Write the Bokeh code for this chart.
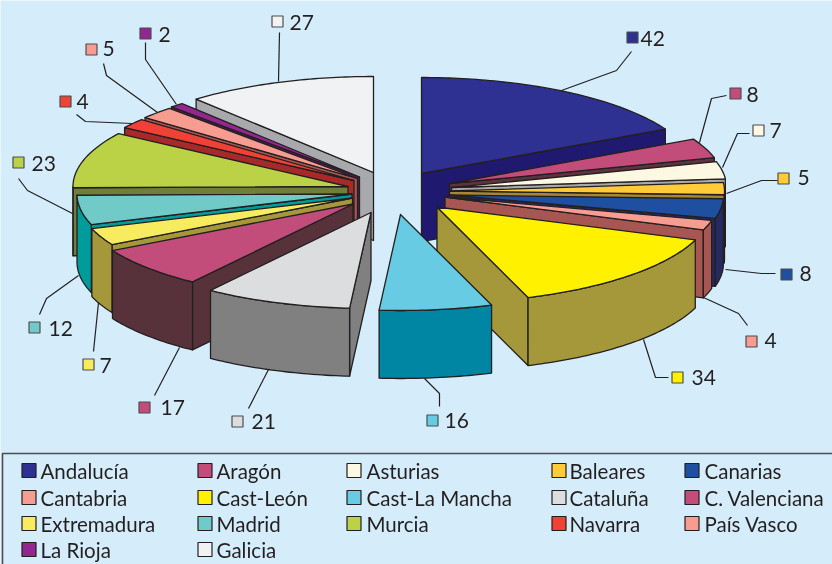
import math
from bokeh.plotting import figure
from bokeh.models import Range1d
from bokeh.core.properties import value
from bokeh.embed import file_html
from bokeh.resources import INLINE

# ---- data ----
regions = ["Andalucía", "Aragón", "Asturias", "Baleares", "Canarias", "Cantabria",
           "Cast-León", "Cast-La Mancha", "Cataluña", "C. Valenciana", "Extremadura",
           "Madrid", "Murcia", "Navarra", "País Vasco", "La Rioja", "Galicia"]
counts = [42, 8, 7, 5, 8, 4, 34, 16, 21, 17, 7, 12, 23, 4, 5, 2, 27]

# ---- styles ----
top_colors = ["#2E3191", "#C24D7B", "#FDF8E1", "#FFCB39", "#1F4FA0", "#F79C91",
              "#FFF100", "#66CBE3", "#DCDDDE", "#C24D7B", "#F7EC60",
              "#6FCAC8", "#BBD246", "#EF4136", "#F79C91", "#92278F", "#F1F2F4"]
side_colors = ["#1F1A6F", "#5E3240", "#A7A9AC", "#A88634", "#252B60", "#A85652",
               "#A5983A", "#0085A2", "#808080", "#58323A", "#A5983A",
               "#009C9C", "#6F7F3A", "#A62A2A", "#A85652", "#5A1A58", "#A7A9AC"]
BG = "#D5EDFA"
INK = "#231F20"
FONT = "Lato"

# ---- layout (pixels on the page) ----
RX, RY, DEPTH = 275, 96, 68
# where each pulled-out slice has its tip
tips = [(421, 173), (449, 183), (451, 187), (449, 190.5), (448, 194.5), (444.5, 196.5),
        (436.5, 206.5), (400, 214), (370.5, 212), (352.5, 203.5), (352, 197.5),
        (351.5, 193.5), (347.5, 186), (353.5, 180), (357, 178), (359, 176.5), (373, 172)]
paint_order = [0, 16, 15, 14, 13, 12, 1, 2, 3, 4, 5, 11, 10, 9, 8, 6, 7]
label_sq = [(632, 37), (735, 93), (758, 130), (783, 178), (786, 274), (751, 341),
            (677, 377), (432, 420), (237, 421), (144, 407), (88, 364),
            (34, 327), (18, 162), (65, 101), (91, 49), (145, 33), (277, 21)]
label_tx = [(640, 38), (746, 94), (769, 130), (797, 177), (799, 273), (764, 340),
            (691, 377), (444, 420), (251, 421), (160, 407), (99, 365),
            (48, 328), (31, 163), (76, 101), (102, 48), (158, 34), (289, 22)]
leaders = [[(631, 51), (616, 70), (561, 90)],
           [(726, 95), (711, 98), (699, 142)],
           [(749, 133), (737, 133), (722, 167)],
           [(777, 180), (761, 180), (726, 193)],
           [(775, 273), (761, 273), (725, 269)],
           [(747, 325), (738, 313), (703, 297)],
           [(668, 377), (655, 377), (643, 339)],
           [(439, 406), (439, 393), (424, 378)],
           [(248, 408), (268, 369)],
           [(154, 395), (179, 347)],
           [(93, 351), (98, 302)],
           [(39, 314), (46, 298), (78, 275)],
           [(18, 178), (27, 190), (72, 213)],
           [(76, 114), (85, 121), (132, 123)],
           [(103, 63), (106, 75), (157, 112)],
           [(145, 42), (145, 59), (176, 104)],
           [(279, 32), (278, 81)]]
legend_sq_x = [21, 197, 346, 551, 684]
legend_tx_x = [40, 216, 366, 569, 704]
legend_y = [470, 497, 523, 549]
# legend slot of each region: (column, row)
legend_slot = [(0, 0), (1, 0), (2, 0), (3, 0), (4, 0),
               (0, 1), (1, 1), (2, 1), (3, 1), (4, 1),
               (0, 2), (1, 2), (2, 2), (3, 2), (4, 2),
               (0, 3), (1, 3)]
legend_names = list(regions)
legend_names[5] = " Cantabria"

p = figure(width=832, height=564, x_range=Range1d(0, 832), y_range=Range1d(564, 0),
           output_backend="svg", toolbar_location=None, min_border=0,
           background_fill_color=BG, border_fill_color=BG, outline_line_color=None)
p.axis.visible = False
p.grid.visible = False
p.styles = {"position": "fixed", "left": "0px", "top": "0px"}

# ---- pie: every face comes from the counts ----
total = sum(counts)
starts, acc = [], 0
for c in counts:
    starts.append(acc)
    acc += c


def rim(tip, a):
    return tip[0] + RX * math.sin(a), tip[1] - RY * math.cos(a)


xs, ys, fills = [], [], []


def add(poly, color):
    xs.append([q[0] for q in poly])
    ys.append([q[1] for q in poly])
    fills.append(color)


for i in paint_order:
    a0 = starts[i] / total * 2 * math.pi
    a1 = (starts[i] + counts[i]) / total * 2 * math.pi
    tip = tips[i]
    steps = max(6, int((a1 - a0) * 60))
    arc = [a0 + (a1 - a0) * k / steps for k in range(steps + 1)]
    # radial walls that face the viewer
    for a, visible in ((a0, math.sin(a0) < 0), (a1, math.sin(a1) > 0)):
        if visible:
            e = rim(tip, a)
            add([tip, e, (e[0], e[1] + DEPTH), (tip[0], tip[1] + DEPTH)], side_colors[i])
    # curved outer wall: only the front half
    lo, hi = max(a0, math.pi / 2), min(a1, 3 * math.pi / 2)
    if hi > lo:
        n = max(4, int((hi - lo) * 60))
        up = [rim(tip, lo + (hi - lo) * k / n) for k in range(n + 1)]
        add(up + [(q[0], q[1] + DEPTH) for q in reversed(up)], side_colors[i])
    # top
    add([tip] + [rim(tip, a) for a in arc], top_colors[i])

p.patches(xs, ys, fill_color=fills, line_color=INK, line_width=1.3, line_join="round")

# ---- leaders and value labels ----
p.multi_line([[q[0] for q in l] for l in leaders], [[q[1] for q in l] for l in leaders],
             line_color=INK, line_width=1.2)
p.rect([q[0] for q in label_sq], [q[1] for q in label_sq], width=11, height=11,
       fill_color=top_colors, line_color="#4D4D4F", line_width=1.2)
p.text([q[0] for q in label_tx], [q[1] for q in label_tx], text=[str(c) for c in counts],
       text_font=value(FONT), text_font_size="21px", text_color=INK,
       text_align="left", text_baseline="middle")

# ---- legend box ----
p.quad(left=[2], right=[845], top=[453], bottom=[575], fill_color=None,
       line_color="#4D4D4F", line_width=1.6)
p.rect([legend_sq_x[s[0]] + 7.5 for s in legend_slot], [legend_y[s[1]] for s in legend_slot],
       width=14, height=14, fill_color=top_colors, line_color=INK, line_width=1.2)
p.text([legend_tx_x[s[0]] for s in legend_slot], [legend_y[s[1]] for s in legend_slot],
       text=legend_names, text_font=value(FONT), text_font_size="20.5px", text_color=INK,
       text_align="left", text_baseline="middle")

open("out.html", "w").write(file_html(p, INLINE))
